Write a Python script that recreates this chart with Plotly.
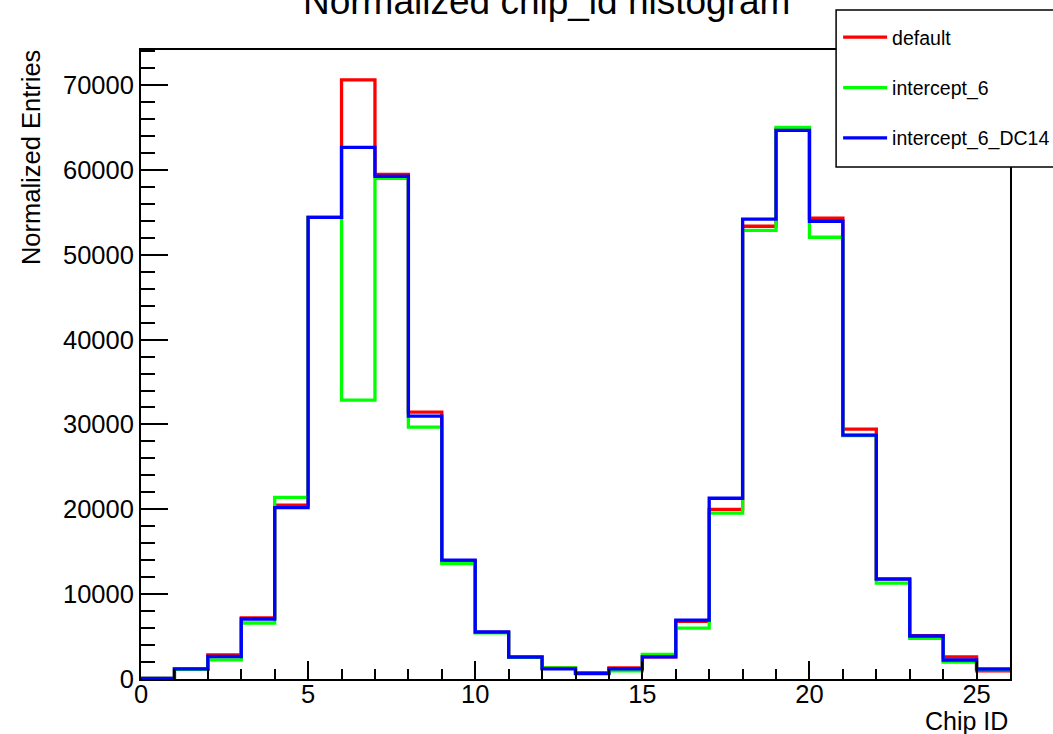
import plotly.graph_objects as go

# Bin edges 0..26 (26 bins of width 1)
bin_edges = list(range(0, 27))

default_vals = [80, 1150, 2850, 7200, 20500, 54400, 70600, 59480, 31450, 13800,
                5500, 2550, 1300, 750, 1300, 2600, 6800, 20000, 53360, 64800,
                54300, 29450, 11800, 5100, 2600, 950]
intercept6_vals = [80, 1150, 2250, 6600, 21400, 54400, 32860, 59000, 29680, 13600,
                   5450, 2550, 1300, 700, 950, 2900, 6000, 19550, 52880, 65000,
                   52060, 28700, 11300, 4800, 2000, 1100]
intercept6_dc14_vals = [80, 1200, 2650, 7070, 20200, 54400, 62660, 59250, 30980, 14000,
                        5540, 2590, 1200, 650, 1200, 2600, 6950, 21300, 54200, 64660,
                        53950, 28740, 11780, 5070, 2240, 1180]

series = [
    ("default", default_vals, "#FF0000"),
    ("intercept_6", intercept6_vals, "#00FF00"),
    ("intercept_6_DC14", intercept6_dc14_vals, "#0000FF"),
]

FONT = "Liberation Sans, Arial, Helvetica, sans-serif"

# plot-area pixel geometry (used only to convert pixel placements into paper coords)
PL, PR, PT, PB = 140.5, 1010.0, 50.0, 679.0
PW, PH = PR - PL, PB - PT


def px(xpix):
    return (xpix - PL) / PW


def py(ypix):
    return (PB - ypix) / PH


fig = go.Figure()
for i, (name, vals, color) in enumerate(series):
    fig.add_trace(go.Scatter(
        x=bin_edges,
        y=vals + [vals[-1]],
        mode="lines",
        line=dict(shape="hv", color=color, width=3.3),
        name=name,
        legendgroup=f"g{i}",
    ))

ymax = 74130

fig.update_layout(
    width=1053, height=734,
    margin=dict(l=PL, r=1053 - PR, t=PT, b=734 - PB, autoexpand=False),
    paper_bgcolor="white", plot_bgcolor="white",
    font=dict(family=FONT, color="black"),
    showlegend=True,
    legend=dict(
        x=px(838), y=py(18), xanchor="left", yanchor="top",
        bgcolor="rgba(0,0,0,0)", borderwidth=0,
        font=dict(size=19.5, family=FONT),
        tracegroupgap=22, itemwidth=44,
    ),
    shapes=[
        dict(type="rect", xref="paper", yref="paper",
             x0=px(836), x1=px(1070), y0=py(167), y1=py(10),
             fillcolor="white", line=dict(color="black", width=1.5), layer="above"),
    ],
    xaxis=dict(
        range=[0, 26], showgrid=False, zeroline=False,
        showline=True, linecolor="black", linewidth=2, mirror=True,
        ticks="inside", ticklen=18, tickwidth=1.5, tickcolor="black",
        tickmode="array", tickvals=[0, 5, 10, 15, 20, 25],
        tickfont=dict(size=25.5, family=FONT), ticklabelstandoff=-9,
        minor=dict(ticks="inside", ticklen=10, dtick=1, tick0=0,
                   tickwidth=1.5, tickcolor="black", showgrid=False),
    ),
    yaxis=dict(
        range=[0, ymax], showgrid=False, zeroline=False,
        showline=True, linecolor="black", linewidth=2, mirror=True,
        ticks="inside", ticklen=27, tickwidth=1.5, tickcolor="black",
        tickmode="array", tickvals=[0, 10000, 20000, 30000, 40000, 50000, 60000, 70000],
        ticktext=["0", "10000", "20000", "30000", "40000", "50000", "60000", "70000"],
        tickfont=dict(size=25.5, family=FONT),
        minor=dict(ticks="inside", ticklen=14, dtick=2000, tick0=0,
                   tickwidth=1.5, tickcolor="black", showgrid=False),
    ),
    annotations=[
        dict(text="Normalized chip_id histogram", xref="paper", yref="paper",
             x=px(546), y=py(24), xanchor="center", yanchor="bottom",
             showarrow=False, font=dict(size=37, family=FONT)),
        dict(text="Normalized Entries", xref="paper", yref="paper",
             x=px(30), y=py(157.5), xanchor="center", yanchor="middle",
             textangle=-90, showarrow=False, font=dict(size=25.5, family=FONT)),
        dict(text="Chip ID", xref="paper", yref="paper",
             x=1.0, y=py(721), xanchor="right", yanchor="middle",
             showarrow=False, font=dict(size=25, family=FONT)),
    ],
)

# remove the default 8px page margin so the figure sits at the window's top-left corner
fig.write_html(
    "out.html",
    config={"displayModeBar": False},
    post_script="document.body.style.margin='0';document.body.style.overflow='hidden';",
)
